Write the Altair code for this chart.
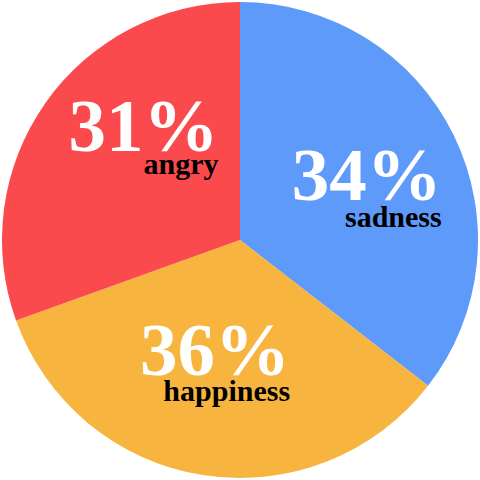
import altair as alt
import pandas as pd

categories = ["sadness", "happiness", "angry"]
values = [35.5, 34.0, 30.5]
pct_labels = ["34%", "36%", "31%"]
colors = ["#5E9AFA", "#F7B53F", "#FA4A4D"]

df = pd.DataFrame({"category": categories, "value": values, "pct": pct_labels})

base = alt.Chart(df).transform_window(idx="row_number()").encode(
    theta=alt.Theta("value:Q", stack=True),
    order=alt.Order("idx:Q"),
)

pie = base.mark_arc(outerRadius=238, stroke=None).encode(
    color=alt.Color("category:N", scale=alt.Scale(domain=categories, range=colors), legend=None)
)

# per-label offsets (right-aligned anchor relative to the mid-angle point)
offsets = {
    "sadness": (76, 22, 49),
    "happiness": (72, -3, 23),
    "angry": (93, -8, 15),
}

layers = [pie]
for cat, (dx, dy_pct, dy_name) in offsets.items():
    layers.append(
        base.transform_calculate(t=f"datum.category == '{cat}' ? datum.pct : ''")
        .mark_text(radius=140, font="Liberation Serif", fontWeight="bold", fontSize=75,
                   color="white", align="right", baseline="alphabetic", dx=dx, dy=dy_pct)
        .encode(text="t:N")
    )
    layers.append(
        base.transform_calculate(t=f"datum.category == '{cat}' ? datum.category : ''")
        .mark_text(radius=140, font="Liberation Serif", fontWeight="bold", fontSize=30,
                   color="black", align="right", baseline="alphabetic", dx=dx, dy=dy_name)
        .encode(text="t:N")
    )

chart = alt.layer(*layers).properties(
    width=480, height=480, padding=0,
    autosize=alt.AutoSizeParams(type="fit", contains="padding"),
    background="white",
).configure_view(strokeWidth=0)

chart.save("out.html", embed_options={"renderer": "svg", "actions": False})
